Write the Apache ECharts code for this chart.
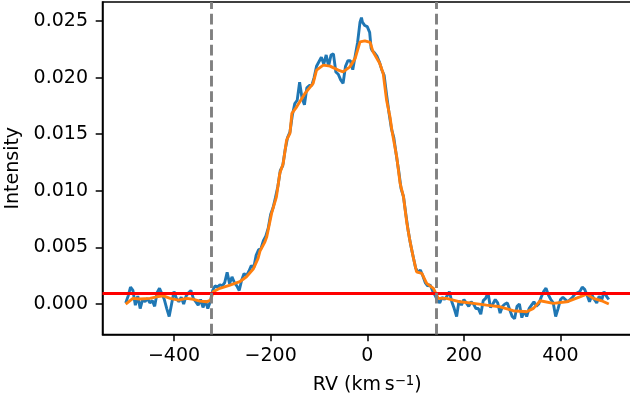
<!DOCTYPE html>
<html><head><meta charset="utf-8">
<script src="https://cdn.jsdelivr.net/npm/echarts@6/dist/echarts.min.js"></script>
<style>html,body{margin:0;padding:0;background:#fff}#c{width:630px;height:401px}</style>
</head><body><div id="c"></div>
<script>
// Observed spectrum (blue)
const blueRV = [
-500,-495,-490,-485,-480,-475,-470,-465,-460,-455,-450,-445,-440,-435,-430,-425,-420,-415,-410,-405,
-400,-395,-390,-385,-380,-375,-370,-365,-360,-355,-350,-345,-340,-335,-330,-325,
-320,-315,-310,-305,-300,-295,-290,-285,-280,-275,-270,-265,-260,-255,-250,-245,-240,-235,-230,-225,
-220,-215,-210,-205,-200,-195,-190,-185,-180,-175,-170,-165,-160,-155,-150,
-145,-140,-135,-130,-125,-120,-115,-110,-105,-100,-95,-90,-85,-80,-75,-70,-65,-60,-55,-50,-45,-40,
-35,-30,-25,-20,-15,-12,-10,-5,0,5,8,10,15,20,25,30,35,
40,45,50,55,60,65,70,75,80,85,90,95,100,105,110,115,120,125,130,135,140,
145,150,155,160,165,170,175,180,185,190,195,200,205,210,215,220,225,230,235,240,245,250,255,260,
265,270,275,280,285,290,295,300,305,310,315,320,325,330,335,340,345,350,355,360,365,370,375,380,
385,390,395,400,405,410,415,420,425,430,435,440,445,450,455,460,465,470,475,480,485,490,495,500];
const blueInt = [
0.0001,0.0007,0.0015,0.0012,-0.0001,0.0007,-0.0004,0.0004,0.0002,0.0005,0.0001,0.0003,-0.0002,0.0010,0.0014,0.0009,0.0004,-0.0004,-0.0011,0.0000,
0.0011,0.0005,0.0002,0.0006,0.0000,0.0007,0.0010,0.0012,0.0005,0.0002,-0.0001,0.0004,-0.0003,0.0003,-0.0004,0.0002,
0.0012,0.0016,0.0015,0.0017,0.0016,0.0019,0.0028,0.0018,0.0024,0.0019,0.0016,0.0012,0.0021,0.0027,0.0025,0.0029,0.0034,0.0032,0.0043,0.0048,
0.0049,0.0056,0.0060,0.0067,0.0079,0.0085,0.0094,0.0104,0.0118,0.0122,0.0136,0.0147,0.0152,0.0167,0.0177,
0.0180,0.0196,0.0182,0.0176,0.0191,0.0193,0.0193,0.0200,0.0210,0.0214,0.0218,0.0212,0.0220,0.0210,0.0220,0.0221,0.0205,0.0203,0.0198,0.0195,0.0210,0.0215,
0.0215,0.0207,0.0219,0.0231,0.0249,0.0253,0.0249,0.0246,0.0245,0.0240,0.0226,0.0224,0.0222,0.0219,0.0214,0.0207,0.0202,
0.0185,0.0169,0.0155,0.0147,0.0132,0.0118,0.0102,0.0095,0.0079,0.0064,0.0052,0.0042,0.0032,0.0028,0.0030,0.0025,0.0019,0.0016,0.0017,0.0012,0.0008,
0.00035,0.0001,0.0006,0.0004,0.0007,0.0011,0.0002,-0.0004,-0.0011,0.0003,-0.0001,0.0004,0.0001,-0.0002,0.0002,0.0000,-0.0004,-0.0004,-0.0009,0.0003,0.0005,0.0010,-0.0003,0.0000,
0.0004,0.0001,-0.0008,-0.0002,0.0000,0.0001,-0.0005,-0.0011,-0.0013,-0.0002,0.0000,-0.0012,-0.0006,-0.0011,-0.0004,-0.0001,0.0002,-0.0002,0.0000,0.0006,0.0011,0.0014,0.0008,0.0004,
0.0001,-0.0011,-0.0004,0.0004,0.0006,0.0004,0.0002,0.0004,0.0006,0.0009,0.0010,0.0011,0.0015,0.0013,0.0008,0.0002,0.0008,0.0004,0.0001,0.0007,0.0003,0.0011,0.0007,0.0004];
// Smoothed profile (orange)
const smoothRV = [-500,-485,-471,-450,-436,-422,-408,-391,-374,-360,-346,-333,-324,-319,-305,-284,-264,-250,-236,-226,-222,-212,-208,-198,-188,-181,-174,-167,-160,-156,-146,-129,-112,-105,-91,-77,-60,-50,-36,-25,-15,-5,6,12,26,33,40,47,51,61,68,75,82,88,95,102,113,123,137,147,164,192,220,247,275,302,330,344,358,385,413,440,454,468,485,500];
const smoothInt = [0.0000,0.0005,0.00044,0.0005,0.00064,0.00073,0.0005,0.00035,0.0005,0.00042,0.00026,0.0002,0.00035,0.00109,0.00139,0.00168,0.00197,0.00241,0.00309,0.00404,0.00468,0.00547,0.00594,0.00801,0.00947,0.01154,0.01242,0.01448,0.01507,0.01684,0.01742,0.0186,0.01949,0.02066,0.0211,0.02102,0.02066,0.02051,0.02095,0.0217,0.02316,0.02325,0.02311,0.02228,0.02125,0.02037,0.01801,0.01654,0.01536,0.013,0.01066,0.00947,0.00713,0.00565,0.00418,0.00285,0.00271,0.00183,0.00139,0.0005,0.0005,0.0002,0.00006,-0.00009,-0.00024,-0.00059,-0.00068,-0.00038,0.00029,0.00006,0.0002,0.00064,0.00088,0.0005,0.00029,0.0000];
const xTicks = [-400,-200,0,200,400];
const yTicks = [0,0.005,0.010,0.015,0.020,0.025];
const threshold = 0.00091;
const windowEdges = [-322, 142];
const xRange = [-548, 548];
const yRange = [-0.00269, 0.02668];

const FONT = 'DejaVu Sans';
const chart = echarts.init(document.getElementById('c'), null, {renderer:'canvas', width:630, height:401});
const pairs = (xs, ys) => xs.map((x,i)=>[x, ys[i]]);
const minusFmt = v => (v < 0 ? '\u2212' + Math.abs(v) : String(v));

chart.setOption({
  animation: false,
  backgroundColor: '#fff',
  grid: {left: 102.5, top: 2, width: 529.5, height: 332.5, show: true, borderColor: '#000', borderWidth: 1.5, backgroundColor: 'transparent', containLabel: false, outerBoundsMode: 'none'},
  xAxis: {
    type: 'value', min: xRange[0], max: xRange[1],
    axisLine: {show: true, onZero: false, lineStyle: {color: '#000', width: 1.5}},
    axisTick: {show: true, length: 6.8, lineStyle: {color: '#000', width: 1.5}, customValues: xTicks},
    axisLabel: {color: '#000', fontSize: 19, fontFamily: FONT, margin: 12, formatter: minusFmt, customValues: xTicks},
    splitLine: {show: false},
    name: '{a|RV (km\u2009s}{s|\u22121}{a|)}',
    nameLocation: 'middle', nameGap: 41,
    nameTextStyle: {
      rich: {
        a: {fontSize: 19, fontFamily: FONT, color: '#000', verticalAlign: 'bottom'},
        s: {fontSize: 13.3, fontFamily: FONT, color: '#000', verticalAlign: 'top'}
      }
    }
  },
  yAxis: {
    type: 'value', min: yRange[0], max: yRange[1],
    axisLine: {show: true, onZero: false, lineStyle: {color: '#000', width: 1.5}},
    axisTick: {show: true, length: 6.8, lineStyle: {color: '#000', width: 1.5}, customValues: yTicks},
    axisLabel: {color: '#000', fontSize: 19, fontFamily: FONT, margin: 14.5, formatter: v => v.toFixed(3), customValues: yTicks},
    splitLine: {show: false},
    name: 'Intensity', nameLocation: 'middle', nameGap: 73.5, nameRotate: 90,
    nameTextStyle: {fontSize: 19, fontFamily: FONT, color: '#000'}
  },
  series: [
    {type: 'line', data: pairs(blueRV, blueInt), showSymbol: false, z: 2,
     lineStyle: {color: '#1f77b4', width: 2.9}, itemStyle: {color: '#1f77b4'}},
    {type: 'line', data: [], z: 3,
     markLine: {silent: true, symbol: 'none', precision: 6, label: {show: false},
       lineStyle: {color: '#ff0000', width: 3, type: 'solid'},
       data: [{yAxis: threshold}]}},
    {type: 'line', data: pairs(smoothRV, smoothInt), showSymbol: false, z: 4,
     lineStyle: {color: '#ff7f0e', width: 2.9}, itemStyle: {color: '#ff7f0e'}},
    {type: 'line', data: [], z: 5,
     markLine: {silent: true, symbol: 'none', precision: 6, label: {show: false},
       lineStyle: {color: '#808080', width: 2.9, type: [10.8, 4.7]},
       data: windowEdges.map(v => ({xAxis: v}))}}
  ]
});
</script></body></html>
